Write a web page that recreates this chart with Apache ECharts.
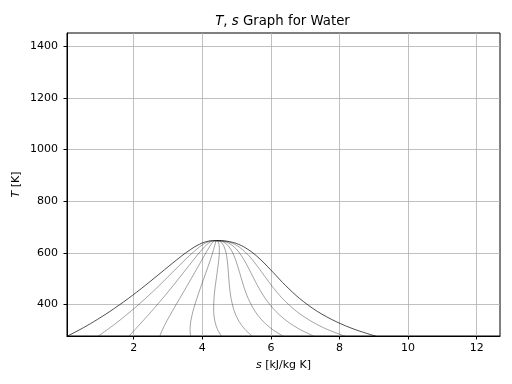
<!DOCTYPE html>
<html>
<head>
<meta charset="utf-8">
<script src="https://cdn.jsdelivr.net/npm/echarts@6/dist/echarts.min.js"></script>
<style>html,body{margin:0;padding:0;background:#fff}#c{width:512px;height:384px}</style>
</head>
<body>
<div id="c"></div>
<script>
// Saturation temperatures [K]
const T = [273.16, 303.15, 333.15, 373.15, 423.15, 473.15, 523.15, 573.15, 603.15, 623.15, 633.15, 638.15, 643.15, 645.15, 646.15, 646.85, 647.1];
// Saturated liquid entropy [kJ/kg K]
const sLiq = [0.000, 0.437, 0.831, 1.307, 1.842, 2.331, 2.794, 3.255, 3.552, 3.778, 3.917, 4.001, 4.111, 4.176, 4.227, 4.294, 4.407];
// Saturated vapour entropy [kJ/kg K]
const sVap = [9.156, 8.452, 7.908, 7.354, 6.837, 6.430, 6.072, 5.706, 5.442, 5.211, 5.054, 4.950, 4.801, 4.715, 4.646, 4.557, 4.407];
// Constant-quality lines (x = 0.1 ... 0.9), entropy at each T
const q10 = [0.916, 1.238, 1.539, 1.912, 2.341, 2.741, 3.121, 3.500, 3.741, 3.922, 4.030, 4.096, 4.180, 4.230, 4.269, 4.320, 4.407];
const q20 = [1.831, 2.040, 2.247, 2.517, 2.841, 3.150, 3.449, 3.745, 3.930, 4.065, 4.144, 4.191, 4.249, 4.284, 4.311, 4.347, 4.407];
const q30 = [2.747, 2.841, 2.954, 3.121, 3.340, 3.560, 3.777, 3.990, 4.119, 4.208, 4.258, 4.286, 4.318, 4.338, 4.353, 4.373, 4.407];
const q40 = [3.662, 3.643, 3.662, 3.726, 3.840, 3.970, 4.105, 4.236, 4.308, 4.351, 4.372, 4.381, 4.387, 4.392, 4.395, 4.399, 4.407];
const q50 = [4.578, 4.444, 4.370, 4.331, 4.340, 4.380, 4.433, 4.481, 4.497, 4.495, 4.485, 4.476, 4.456, 4.446, 4.437, 4.426, 4.407];
const q60 = [5.493, 5.246, 5.077, 4.935, 4.839, 4.790, 4.761, 4.726, 4.686, 4.638, 4.599, 4.570, 4.525, 4.499, 4.478, 4.452, 4.407];
const q70 = [6.409, 6.047, 5.785, 5.540, 5.339, 5.200, 5.089, 4.971, 4.875, 4.781, 4.713, 4.665, 4.594, 4.553, 4.520, 4.478, 4.407];
const q80 = [7.324, 6.849, 6.493, 6.145, 5.838, 5.610, 5.416, 5.216, 5.064, 4.925, 4.826, 4.760, 4.663, 4.607, 4.562, 4.504, 4.407];
const q90 = [8.240, 7.650, 7.201, 6.749, 6.338, 6.020, 5.744, 5.461, 5.253, 5.068, 4.940, 4.855, 4.732, 4.661, 4.604, 4.531, 4.407];
const qualityLines = [q10, q20, q30, q40, q50, q60, q70, q80, q90];
// Tick labels
const xTicks = [2, 4, 6, 8, 10, 12];
const yTicks = [400, 600, 800, 1000, 1200, 1400];

const FONT = 'DejaVu Sans';
const pairs = (s) => s.map((v, i) => [v, T[i]]);

const series = [];
qualityLines.forEach(q => {
  series.push({type: 'line', data: pairs(q), showSymbol: false, silent: true,
    smooth: 0.3,
    lineStyle: {color: '#333', width: 0.45}});
});
series.push({type: 'line', data: pairs(sLiq), showSymbol: false, silent: true,
  smooth: 0.3,
  lineStyle: {color: '#000', width: 0.7}});
series.push({type: 'line', data: pairs(sVap), showSymbol: false, silent: true,
  smooth: 0.3,
  lineStyle: {color: '#000', width: 0.7}});

const chart = echarts.init(document.getElementById('c'), null, {renderer: 'canvas'});
chart.setOption({
  animation: false,
  backgroundColor: '#fff',
  title: {
    text: '{i|T}, {i|s} Graph for Water',
    left: 277.5, top: 10, textAlign: 'center',
    textStyle: {fontFamily: FONT, fontSize: 13.3, fontWeight: 'normal', color: '#000',
      rich: {i: {fontFamily: FONT, fontSize: 13.3, fontStyle: 'italic', color: '#000'}}}
  },
  grid: {left: 67, top: 33, right: 12, bottom: 48, outerBoundsMode: 'none', containLabel: false,
    show: true, borderColor: '#000', borderWidth: 1, backgroundColor: 'transparent'},
  xAxis: {
    type: 'value', min: 0.055, max: 12.68,
    name: '{i|s} [kJ/kg K]', nameLocation: 'middle', nameGap: 24, nameMoveOverlap: false,
    nameTextStyle: {fontFamily: FONT, fontSize: 11, color: '#000',
      rich: {i: {fontFamily: FONT, fontSize: 11, fontStyle: 'italic', color: '#000'}}},
    axisLine: {show: true, onZero: false, lineStyle: {color: '#000', width: 1}},
    axisTick: {show: true, length: 3.5, customValues: xTicks, lineStyle: {color: '#000'}},
    axisLabel: {customValues: xTicks, fontFamily: FONT, fontSize: 11, color: '#000', margin: 7,
      formatter: v => String(v)},
    splitLine: {show: true, lineStyle: {color: '#b0b0b0', width: 0.8}}
  },
  yAxis: {
    type: 'value', min: 278, max: 1451,
    name: '{i|T} [K]', nameLocation: 'middle', nameGap: 45, nameRotate: 90, nameMoveOverlap: false,
    nameTextStyle: {fontFamily: FONT, fontSize: 11, color: '#000',
      rich: {i: {fontFamily: FONT, fontSize: 11, fontStyle: 'italic', color: '#000'}}},
    axisLine: {show: true, onZero: false, lineStyle: {color: '#000', width: 1}},
    axisTick: {show: true, length: 3.5, customValues: yTicks, lineStyle: {color: '#000'}},
    axisLabel: {customValues: yTicks, fontFamily: FONT, fontSize: 11, color: '#000', margin: 9,
      formatter: v => String(v)},
    splitLine: {show: true, lineStyle: {color: '#b0b0b0', width: 0.8}}
  },
  series: series
});
</script>
</body>
</html>
